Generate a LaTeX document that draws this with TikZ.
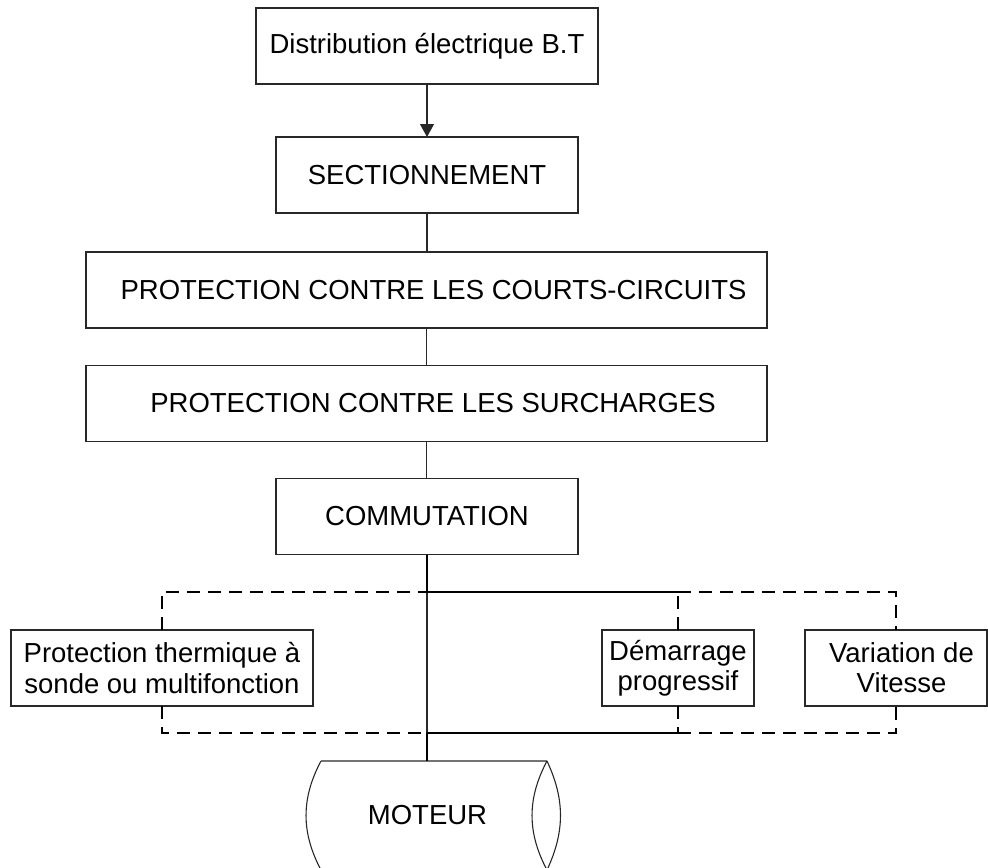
\documentclass[tikz,border=0pt]{standalone}
\usepackage{fontspec}
\setmainfont{Liberation Sans}
\usetikzlibrary{arrows.meta}
\definecolor{trait}{RGB}{40,40,40}
\tikzset{
  blk/.style={draw=trait, line width=1.1bp, fill=white, inner sep=0pt, outer sep=0pt,
    minimum height=76bp, align=center, font=\fontsize{27.6}{30.4}\selectfont},
  lien/.style={trait, line width=1.1bp},
  fle/.style={lien, -{Triangle[length=13bp,width=14bp]}},
  gras/.style={black, line width=2.4bp},
  tiret/.style={black, line width=2.4bp, dash pattern=on 13bp off 8bp},
  mot/.style={inner sep=0pt, outer sep=0pt, minimum width=226bp, minimum height=109bp,
    font=\fontsize{27.6}{30.4}\selectfont},
}
\begin{document}
\begin{tikzpicture}[x=1bp,y=-1bp]
\useasboundingbox (0,0) rectangle (988,868);
\node[blk, minimum width=342bp] (dist) at (427,46) {Distribution électrique B.T};
\node[blk, minimum width=302bp] (sect) at (427,175) {SECTIONNEMENT};
\node[blk, minimum width=681bp] (pcc) at (426.5,290) {\hspace*{14bp}PROTECTION CONTRE LES COURTS-CIRCUITS};
\node[blk, minimum width=681bp] (surch) at (426.5,403.5) {\hspace*{13bp}PROTECTION CONTRE LES SURCHARGES};
\node[blk, minimum width=302bp] (comm) at (427,516.5) {COMMUTATION};
\node[blk, minimum width=302bp] (thermo) at (162,668) {Protection thermique à\\sonde ou multifonction};
\node[blk, minimum width=152bp] (demar) at (678,668) {Démarrage\\progressif};
\node[blk, minimum width=182bp] (vit) at (896,668) {\hspace*{11bp}Variation de\\\hspace*{11bp}Vitesse};
\node[mot] (moteur) at (434,815.5) {MOTEUR\hspace*{13bp}};
% contour du moteur
\draw[lien] (moteur.north west) -- (moteur.north east)
  (moteur.south west) -- (moteur.south east)
  (moteur.north west) to[bend right=28] (moteur.south west)
  (moteur.north east) to[bend right=28] (moteur.south east)
  (moteur.north east) to[bend left=25] (moteur.south east);
% jonctions
\coordinate (ha) at (427,592);
\coordinate (ba) at (427,733);
\coordinate (hm) at (demar.north |- ha);
\coordinate (bm) at (demar.south |- ba);
\draw[fle] (dist) -- (sect);
\draw[lien] (sect.south) -- (sect.south |- pcc.north);
\draw[lien] (pcc.south) -- (pcc.south |- surch.north);
\draw[lien] (surch.south) -- (surch.south |- comm.north);
\draw[tiret] (thermo.north) |- (ha);
\draw[tiret] (thermo.south) |- (ba);
\draw[tiret] (hm) -| (vit.north);
\draw[tiret] (bm) -| (vit.south);
\draw[tiret] (demar.north) -- (hm);
\draw[tiret] (demar.south) -- (bm);
\draw[lien] (ha) -- (ba);
\draw[gras] (comm) -- (ha) -- (hm);
\draw[gras] (ba) -- (bm);
\draw[gras] (ba) -- (ba |- moteur.north);
\end{tikzpicture}
\end{document}
